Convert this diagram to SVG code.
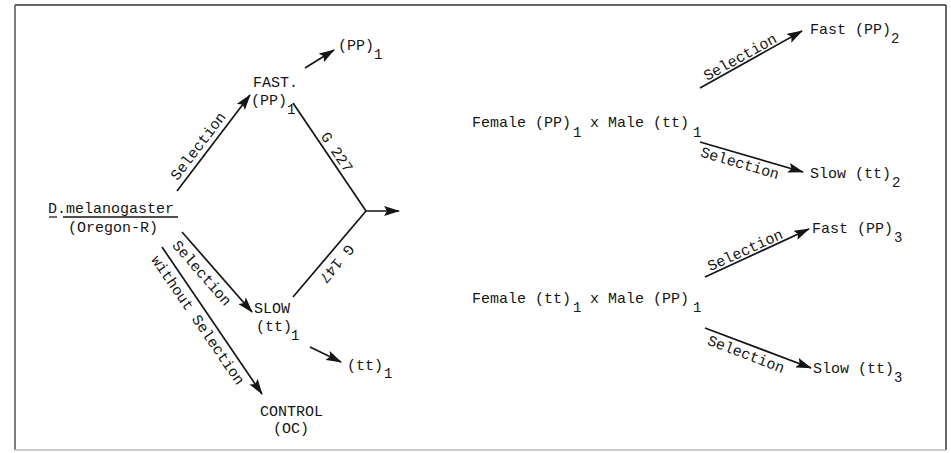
<svg xmlns="http://www.w3.org/2000/svg" width="951" height="453" viewBox="0 0 951 453">
<defs>
<style>
text{font-family:"Liberation Mono","DejaVu Sans Mono",monospace;font-size:15px;fill:#151515}
.sub{font-size:14px}
.lbl{text-anchor:middle}
.c{stroke:#151515;stroke-width:1.7;fill:none}
.ca{stroke:#151515;stroke-width:1.7;fill:none;marker-end:url(#ah)}
</style>
<marker id="ah" viewBox="0 0 16 10" refX="15" refY="5" markerWidth="16" markerHeight="10" markerUnits="userSpaceOnUse" orient="auto">
<path d="M0,0 L16,5 L0,10 L3,5 z" fill="#151515"/>
</marker>
</defs>
<rect width="951" height="453" fill="#ffffff"/>
<g id="frame">
<line x1="15" y1="5" x2="946" y2="5" stroke="#333" stroke-width="1.5"/>
<line x1="15" y1="5" x2="15" y2="450" stroke="#555" stroke-width="1.5"/>
<line x1="946" y1="5" x2="946" y2="450" stroke="#333" stroke-width="1.5"/>
<line x1="15" y1="450" x2="946" y2="450" stroke="#bbb" stroke-width="1.5"/>
</g>
<g id="connectors">
<line class="ca" x1="177" y1="191" x2="250" y2="95"/>
<line class="ca" x1="305" y1="68" x2="334" y2="50"/>
<line class="c" x1="293" y1="103" x2="366" y2="211"/>
<line class="c" x1="293" y1="297" x2="366" y2="211"/>
<line class="ca" x1="366" y1="211" x2="399" y2="211"/>
<line class="ca" x1="182" y1="232" x2="252" y2="312"/>
<line class="ca" x1="162" y1="247" x2="262" y2="394"/>
<line class="ca" x1="310" y1="347" x2="341" y2="362"/>
<line class="ca" x1="700" y1="88" x2="802" y2="31"/>
<line class="ca" x1="700" y1="142" x2="803" y2="172"/>
<line class="ca" x1="705" y1="277" x2="809" y2="229"/>
<line class="ca" x1="705" y1="328" x2="811" y2="368"/>
<text class="lbl" transform="translate(198,146) rotate(-52.7)" y="5">Selection</text>
<text class="lbl" transform="translate(337,152) rotate(56)" y="5">G 227</text>
<text class="lbl" transform="translate(337,264) rotate(130)" y="5">G 147</text>
<text class="lbl" transform="translate(202,273) rotate(48.8)" y="5">Selection</text>
<text class="lbl" transform="translate(198,320) rotate(55.6)" y="5">without Selection</text>
<text class="lbl" transform="translate(740,57) rotate(-29)" y="5">Selection</text>
<text class="lbl" transform="translate(740,163) rotate(16.4)" y="5">Selection</text>
<text class="lbl" transform="translate(745,250) rotate(-24.5)" y="5">Selection</text>
<text class="lbl" transform="translate(746,354) rotate(20.9)" y="5">Selection</text>
</g>
<g id="n-dmel">
<text x="48" y="213">D.melanogaster</text>
<line x1="49" y1="217" x2="57" y2="217" stroke="#151515" stroke-width="1.2"/>
<line x1="63" y1="217" x2="178" y2="217" stroke="#151515" stroke-width="1.4"/>
<text x="68" y="232">(Oregon-R)</text>
</g>
<g id="n-fast">
<text x="253" y="87">FAST.</text>
<text x="251" y="105">(PP)</text>
<text class="sub" x="287" y="114">1</text>
</g>
<g id="n-pp1">
<text x="338" y="50">(PP)</text>
<text class="sub" x="374" y="59">1</text>
</g>
<g id="n-slow">
<text x="254" y="313">SLOW</text>
<text x="256" y="331">(tt)</text>
<text class="sub" x="291" y="340">1</text>
</g>
<g id="n-tt1">
<text x="347" y="370">(tt)</text>
<text class="sub" x="384" y="378">1</text>
</g>
<g id="n-control">
<text x="260" y="416">CONTROL</text>
<text x="273" y="433">(OC)</text>
</g>
<g id="n-cross1">
<text x="472" y="127">Female (PP)</text>
<text class="sub" x="573" y="137">1</text>
<text x="590" y="127">x Male (tt)</text>
<text class="sub" x="693" y="137">1</text>
</g>
<g id="n-fast2">
<text x="810" y="34">Fast (PP)</text>
<text class="sub" x="891" y="43">2</text>
</g>
<g id="n-slow2">
<text x="810" y="178">Slow (tt)</text>
<text class="sub" x="892" y="187">2</text>
</g>
<g id="n-cross2">
<text x="472" y="303">Female (tt)</text>
<text class="sub" x="573" y="312">1</text>
<text x="590" y="303">x Male (PP)</text>
<text class="sub" x="693" y="312">1</text>
</g>
<g id="n-fast3">
<text x="812" y="233">Fast (PP)</text>
<text class="sub" x="894" y="242">3</text>
</g>
<g id="n-slow3">
<text x="813" y="373">Slow (tt)</text>
<text class="sub" x="894" y="382">3</text>
</g>
</svg>
